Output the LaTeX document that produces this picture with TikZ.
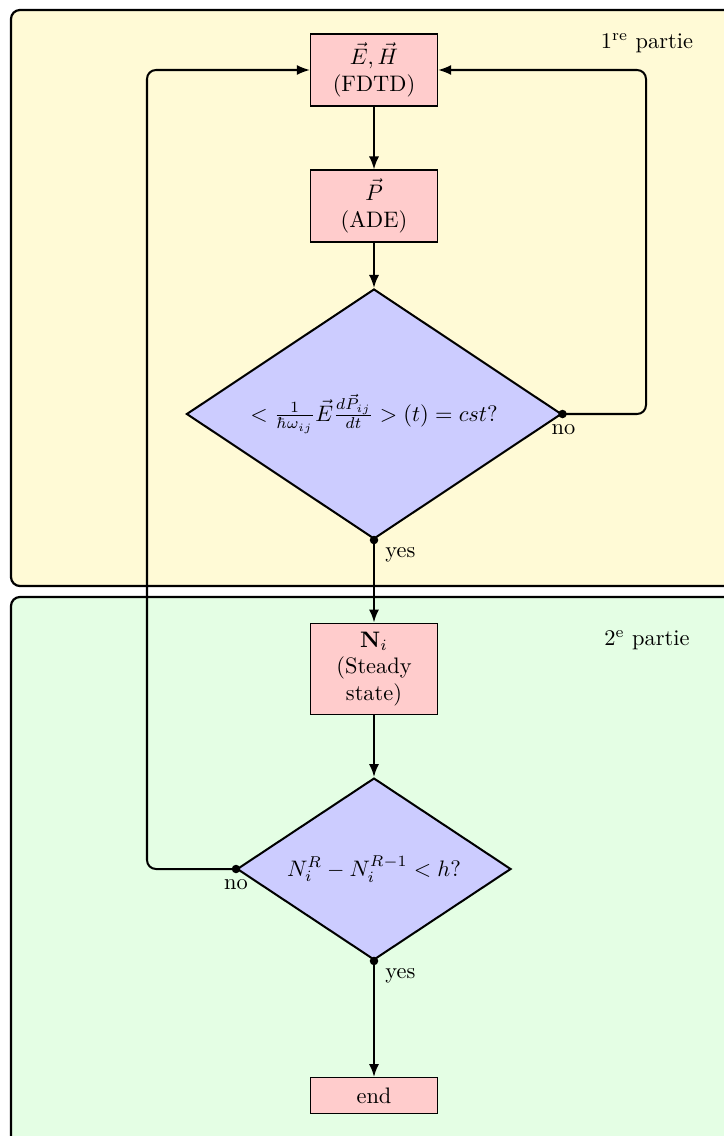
\documentclass[tikz,border=0pt]{standalone}
\usetikzlibrary{shapes.geometric,arrows.meta,calc}
\definecolor{panelY}{RGB}{255,250,214}
\definecolor{panelG}{RGB}{228,254,228}
\definecolor{boxR}{RGB}{255,204,204}
\definecolor{boxB}{RGB}{204,204,255}
\tikzset{
  panel/.style={draw=black,line width=1pt,rounded corners=4pt},
  procbox/.style={draw=black,line width=0.5pt,fill=boxR,minimum width=56.7pt,align=center,inner sep=2pt},
  decision/.style={diamond,shape aspect=1.5,draw=black,line width=0.9pt,fill=boxB,inner sep=0pt,minimum width=#1},
  flow/.style={line width=0.9pt,-{Latex[length=5.8pt,width=4.5pt]}},
  loopflow/.style={flow,rounded corners=4pt},
  dot/.style={circle,fill=black,inner sep=0pt,minimum size=3.8pt},
  lbl/.style={inner sep=0pt}
}
\begin{document}
\begin{tikzpicture}[x=0.4464pt,y=-0.4464pt]
\clip (0,0) rectangle (724,1136);
% panels
\path[panel,fill=panelY] (11,10) rectangle (760,586);
\path[panel,fill=panelG] (11,597) rectangle (760,1170);
\node[lbl] (p1) at (647,43) {1\textsuperscript{re} partie};
\node[lbl] (p2) at (647,640) {2\textsuperscript{e} partie};
% nodes
\node[procbox,minimum height=32.1pt] (fdtd) at (374,70) {$\vec{E},\vec{H}$\\(FDTD)};
\node[procbox,minimum height=32.1pt] (ade) at (374,206) {$\vec{P}$\\(ADE)};
\node[decision=167.4pt,minimum height=111.6pt] (d1) at (374,414) {$<\frac{1}{\hbar\omega_{ij}}\vec{E}\frac{d\vec{P}_{ij}}{dt}>(t)=cst?$};
\node[procbox,minimum height=41pt] (ni) at (374,669) {$\mathbf{N}_i$\\(Steady\\state)};
\node[decision=122.3pt,minimum height=81.2pt] (d2) at (374,869) {$N_i^R-N_i^{R-1}<h?$};
\node[procbox,minimum height=16pt] (end) at (374,1095.5) {end};
% loop corners
\coordinate (rc1) at (646,414);
\coordinate (rc2) at (646,70);
\coordinate (lc1) at (147,869);
\coordinate (lc2) at (147,70);
% connectors
\draw[flow] (fdtd) -- (ade);
\draw[flow] (ade) -- (d1);
\draw[flow] (d1.south) -- (ni);
\draw[flow] (ni) -- (d2);
\draw[flow] (d2.south) -- (end);
\draw[loopflow] (d1.east) -- (rc1) -- (rc2) -- (fdtd.east);
\draw[loopflow] (d2.west) -- (lc1) -- (lc2) -- (fdtd.west);
% dots
\node[dot] at (d1.east) {};
\node[dot] at (d1.south) {};
\node[dot] at (d2.west) {};
\node[dot] at (d2.south) {};
% labels
\node[lbl,anchor=west] (y1) at ($(d1.south)+(11,15)$) {yes};
\node[lbl,anchor=west] (y2) at ($(d2.south)+(11,15)$) {yes};
\node[lbl] (n1) at ($(d1.east)+(1,16)$) {no};
\node[lbl] (n2) at ($(d2.west)+(0,16)$) {no};
\end{tikzpicture}
\end{document}
